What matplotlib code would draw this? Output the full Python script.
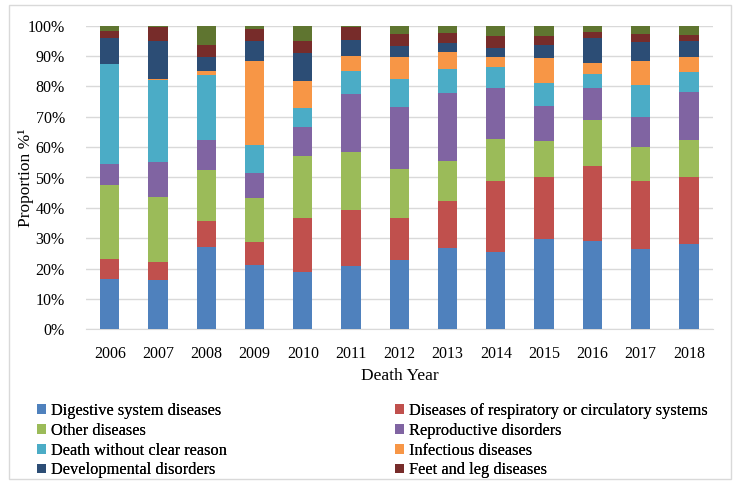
import matplotlib
matplotlib.use("Agg")
import matplotlib.pyplot as plt
from matplotlib.patches import Rectangle, Patch
from matplotlib.ticker import FuncFormatter, MultipleLocator
import numpy as np

years = ["2006", "2007", "2008", "2009", "2010", "2011", "2012",
         "2013", "2014", "2015", "2016", "2017", "2018"]

digestive     = [16.7, 16.1, 27.2, 21.2, 18.9, 20.9, 22.8, 26.8, 25.6, 29.7, 29.2, 26.6, 28.2]
resp_circ     = [6.4, 6.0, 8.5, 7.4, 17.8, 18.5, 13.8, 15.5, 23.1, 20.6, 24.7, 22.1, 21.9]
other         = [24.3, 21.6, 16.8, 14.8, 20.5, 19.0, 16.2, 13.0, 14.1, 11.7, 15.0, 11.3, 12.1]
reproductive  = [6.9, 11.4, 9.7, 8.0, 9.3, 19.2, 20.5, 22.6, 16.8, 11.5, 10.6, 9.9, 16.0]
no_reason     = [33.1, 27.1, 21.7, 9.4, 6.5, 7.5, 9.2, 7.9, 6.7, 7.7, 4.6, 10.5, 6.5]
infectious    = [0.0, 0.3, 1.3, 27.5, 8.7, 4.9, 7.1, 5.4, 3.3, 8.2, 3.7, 8.1, 5.0]
developmental = [8.6, 12.6, 4.5, 6.5, 9.4, 5.3, 3.8, 3.0, 3.0, 4.2, 8.0, 6.0, 5.1]
feet_leg      = [2.2, 4.4, 4.0, 4.1, 3.9, 4.2, 4.0, 3.4, 4.1, 3.1, 2.1, 2.8, 2.1]
unlisted      = [1.8, 0.5, 6.3, 1.1, 5.0, 0.5, 2.6, 2.4, 3.3, 3.3, 2.1, 2.7, 3.1]

series = [
    ("Digestive system diseases", digestive, "#4F81BD"),
    ("Diseases of respiratory or circulatory systems", resp_circ, "#C0504D"),
    ("Other diseases", other, "#9BBB59"),
    ("Reproductive disorders", reproductive, "#8064A2"),
    ("Death without clear reason", no_reason, "#4BACC6"),
    ("Infectious diseases", infectious, "#F79646"),
    ("Developmental disorders", developmental, "#2C4D75"),
    ("Feet and leg diseases", feet_leg, "#772C2A"),
    (None, unlisted, "#5F7530"),
]

plt.rcParams['font.family'] = ['Liberation Serif', 'DejaVu Serif']

W, H = 740, 490
fig = plt.figure(figsize=(W / 100, H / 100), dpi=100)
ax = fig.add_axes([85.6 / W, 1 - 329.3 / H, (713 - 85.6) / W, (329.3 - 25.7) / H])

x = np.arange(len(years))
bottom = np.zeros(len(years))
handles = {}
for name, vals, col in series:
    v = np.array(vals) / 100.0
    ax.bar(x, v, width=0.4, bottom=bottom, color=col, zorder=3, linewidth=0)
    bottom += v
    if name:
        handles[name] = Patch(facecolor=col, edgecolor='none')

ax.set_xlim(-0.5, len(years) - 0.5)
ax.set_ylim(0, 1)
ax.yaxis.set_major_locator(MultipleLocator(0.1))
ax.yaxis.set_major_formatter(FuncFormatter(lambda v, p: f"{int(round(v * 100))}%"))
ax.set_xticks(x)
ax.set_xticklabels(years)
ax.grid(axis='y', color='#d9d9d9', linewidth=1, zorder=0)
for s in ['top', 'right', 'left']:
    ax.spines[s].set_visible(False)
ax.spines['bottom'].set_color('#d9d9d9')
ax.tick_params(axis='both', length=0, labelsize=11.5, colors='black')
ax.tick_params(axis='y', pad=15)
ax.tick_params(axis='x', pad=12)

fig.text(26 / W, 1 - 177.5 / H, "Proportion %¹", rotation=90, ha='center', va='center', fontsize=12.5)
fig.text(400 / W, 1 - 376 / H, "Death Year", ha='center', va='center', fontsize=12.5)

col1 = ["Digestive system diseases", "Other diseases", "Death without clear reason", "Developmental disorders"]
col2 = ["Diseases of respiratory or circulatory systems", "Reproductive disorders", "Infectious diseases", "Feet and leg diseases"]
for names, x0 in [(col1, 37), (col2, 395)]:
    leg = fig.legend([handles[n] for n in names], names, loc='upper left',
                     bbox_to_anchor=(x0 / W, 1 - 403 / H), frameon=False,
                     fontsize=11.8, handlelength=0.55, handleheight=0.55, handletextpad=0.3,
                     labelspacing=0.23, borderpad=0, borderaxespad=0)
    fig.add_artist(leg)

fig.patches.append(Rectangle((9 / W, 1 - 479 / H), 722 / W, 474 / H, transform=fig.transFigure,
                             fill=False, edgecolor='#d9d9d9', linewidth=1))

fig.savefig("out.png", dpi=100)
